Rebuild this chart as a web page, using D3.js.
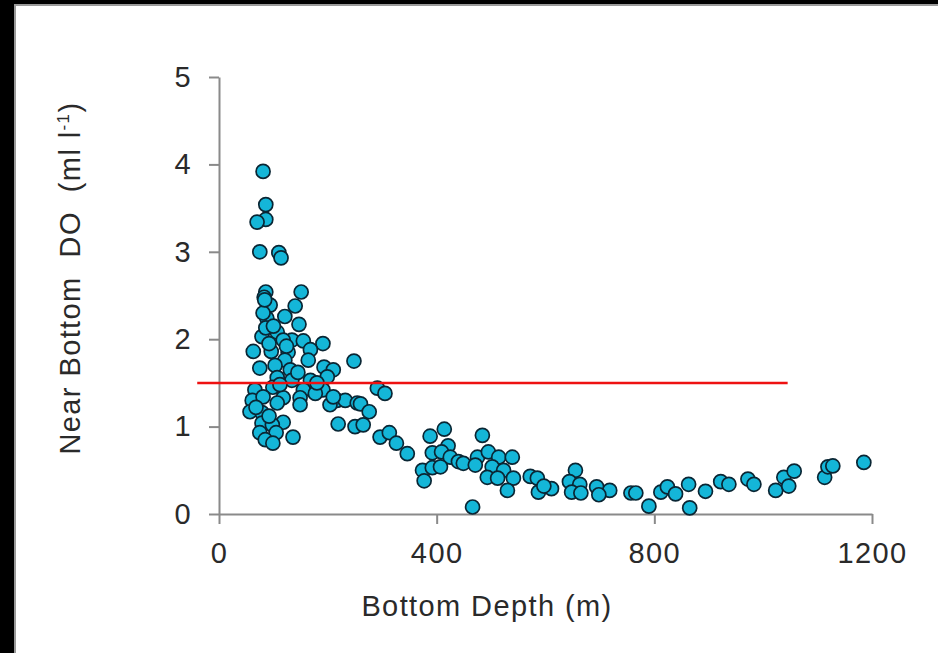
<!DOCTYPE html>
<html>
<head>
<meta charset="utf-8">
<script src="https://cdn.jsdelivr.net/npm/d3@7"></script>
<style>
  html, body { margin: 0; padding: 0; background: #000; }
  svg { display: block; }
</style>
</head>
<body>
<div class="chart"></div>
<script>
// bottom depth (m) and near bottom DO (ml l-1)
const depth = [81, 86, 86, 70, 75, 110, 114, 86, 151, 83, 94, 140, 121, 147, 88, 107, 79, 134, 155, 191,
  63, 81, 84, 86, 118, 96, 127, 168, 164, 121, 75, 103, 131, 193, 210, 248, 107, 134, 199, 168,
  66, 99, 155, 191, 61, 81, 118, 149, 177, 217, 232, 57, 79, 107, 149, 204, 254, 118, 79, 98,
  219, 250, 75, 105, 85, 99, 136, 291, 305, 260, 276, 265, 296, 313, 326, 210, 346, 388, 414, 421,
  392, 409, 425, 440, 374, 392, 407, 377, 449, 484, 475, 495, 514, 539, 471, 502, 523, 493, 512, 541,
  530, 466, 572, 585, 587, 611, 597, 655, 644, 663, 648, 665, 694, 718, 698, 757, 766, 790, 812, 824,
  839, 863, 865, 894, 922, 937, 972, 983, 1023, 1038, 1047, 1057, 1113, 1119, 1128, 1185,
  68, 92, 112, 145, 180, 124, 100, 92]
const nearBottomDO = [3.92, 3.54, 3.37, 3.34, 3.00, 2.99, 2.93, 2.54, 2.54, 2.48, 2.39, 2.38, 2.26, 2.17, 2.24, 2.08, 2.03, 1.99, 1.98, 1.95,
  1.86, 2.30, 2.45, 2.13, 1.99, 1.86, 1.85, 1.88, 1.76, 1.76, 1.67, 1.70, 1.65, 1.68, 1.65, 1.75, 1.56, 1.53, 1.57, 1.53,
  1.42, 1.45, 1.42, 1.42, 1.30, 1.34, 1.33, 1.33, 1.38, 1.30, 1.30, 1.17, 1.16, 1.27, 1.25, 1.25, 1.27, 1.05, 1.04, 1.02,
  1.03, 1.00, 0.93, 0.93, 0.85, 0.81, 0.88, 1.44, 1.38, 1.26, 1.17, 1.02, 0.88, 0.93, 0.81, 1.34, 0.69, 0.89, 0.97, 0.78,
  0.70, 0.71, 0.65, 0.60, 0.50, 0.53, 0.54, 0.38, 0.58, 0.90, 0.65, 0.71, 0.65, 0.65, 0.56, 0.54, 0.50, 0.42, 0.41, 0.41,
  0.27, 0.08, 0.43, 0.41, 0.25, 0.29, 0.32, 0.50, 0.37, 0.34, 0.25, 0.24, 0.31, 0.27, 0.22, 0.24, 0.24, 0.09, 0.25, 0.31,
  0.23, 0.34, 0.07, 0.26, 0.37, 0.34, 0.40, 0.34, 0.27, 0.42, 0.32, 0.49, 0.42, 0.54, 0.55, 0.59,
  1.22, 1.12, 1.48, 1.62, 1.50, 1.92, 2.15, 1.95]
// red reference line at 1.5 ml l-1
const lineDepth = [-40, 1045]
const lineDO = [1.5, 1.5]
const xTicks = [0, 400, 800, 1200]
const yTicks = [0, 1, 2, 3, 4, 5]

let width = 938,
    height = 653
let points = depth.map((d, i) => ({depth: d, value: nearBottomDO[i]}))

let x = d3.scaleLinear().domain([0, 1200]).range([219, 872])
let y = d3.scaleLinear().domain([0, 5]).range([514, 77])

let svg = d3.select(".chart")
    .append("svg")
    .attr("width", width)
    .attr("height", height)
    .attr("font-family", "'Liberation Sans', Arial, sans-serif")

// slide frame: black edge on top and left
svg.append("rect").attr("width", width).attr("height", height).attr("fill", "#000")
svg.append("rect").attr("x", 14).attr("y", 4).attr("width", width).attr("height", height).attr("fill", "#9a9a9a")
svg.append("rect").attr("x", 16).attr("y", 6).attr("width", width).attr("height", height).attr("fill", "#fff")

let xAxis = svg.append("g")
    .attr("transform", `translate(0,${y(0)})`)
    .call(d3.axisBottom(x).tickValues(xTicks).tickFormat(d3.format("d"))
        .tickSize(10).tickSizeOuter(0).tickPadding(18))
let yAxis = svg.append("g")
    .attr("transform", `translate(${x(0)},0)`)
    .call(d3.axisLeft(y).tickValues(yTicks).tickFormat(d3.format("d"))
        .tickSize(10).tickSizeOuter(0).tickPadding(17))

for (let g of [xAxis, yAxis]) {
    g.select(".domain").attr("stroke", "#8a8a8a").attr("stroke-width", 2)
    g.selectAll(".tick line").attr("stroke", "#8a8a8a").attr("stroke-width", 2)
    g.selectAll(".tick text")
        .attr("font-size", 29)
        .attr("letter-spacing", 1.4)
        .attr("fill", "#2a2a2a")
        .attr("font-family", "'Liberation Sans', Arial, sans-serif")
}

svg.append("g")
    .selectAll("circle")
    .data(points)
    .join("circle")
    .attr("cx", d => x(d.depth))
    .attr("cy", d => y(d.value))
    .attr("r", 7)
    .attr("fill", "#14b6d8")
    .attr("stroke", "#0a2634")
    .attr("stroke-width", 1.7)

let line = d3.line()
    .x(d => x(d[0]))
    .y(d => y(d[1]))
svg.append("path")
    .datum(lineDepth.map((d, i) => [d, lineDO[i]]))
    .attr("d", line)
    .attr("stroke", "#ee1111")
    .attr("stroke-width", 2.5)
    .attr("fill", "none")

// axis titles
svg.append("text")
    .attr("x", 487)
    .attr("y", 616)
    .attr("text-anchor", "middle")
    .attr("font-size", 29)
    .attr("letter-spacing", 1.4)
    .attr("fill", "#2a2a2a")
    .text("Bottom Depth (m)")

let yTitle = svg.append("text")
    .attr("transform", "translate(80,278) rotate(-90)")
    .attr("text-anchor", "middle")
    .attr("font-size", 29)
    .attr("letter-spacing", 1.4)
    .attr("fill", "#2a2a2a")
    .attr("xml:space", "preserve")
yTitle.append("tspan").text("Near Bottom  DO  (ml l")
yTitle.append("tspan").attr("font-size", 17).attr("dy", -11).text("-1")
yTitle.append("tspan").attr("dy", 11).text(")")
</script>
</body>
</html>
